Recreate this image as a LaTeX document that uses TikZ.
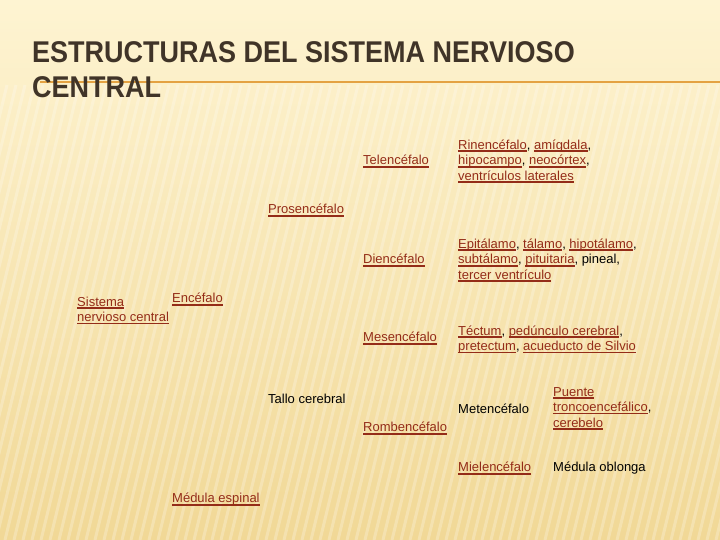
\documentclass[tikz,border=0pt]{standalone}
\usepackage{fontspec}
\setmainfont{Liberation Sans}
\newfontfamily\titlefont[FakeStretch=0.9]{Liberation Sans}
\usetikzlibrary{positioning}
\definecolor{linkred}{RGB}{148,44,24}
\definecolor{titlegray}{RGB}{64,52,40}
\definecolor{rulecol}{RGB}{228,162,66}
\definecolor{creamtop}{RGB}{254,244,210}
\definecolor{creambot}{RGB}{241,216,150}
\newsavebox{\lnkbox}
\def\lnk#1{\textcolor{linkred}{\sbox{\lnkbox}{#1}\rlap{\rule[-2.6pt]{\wd\lnkbox}{1.6pt}}\usebox{\lnkbox}}}

\begin{document}
\begin{tikzpicture}[x=1pt,y=-1pt,% pixel grid of the slide, y going down
		every node/.style={
			align=left,		% so that "\\" breaks the line
			anchor=west,
			inner sep=0pt,
			font=\fontsize{13}{15.5}\selectfont
		},
		heading/.style={anchor=base west,text=titlegray,font=\titlefont\bfseries\fontsize{30}{35}\selectfont}
	]
	\useasboundingbox (0,0) rectangle (720,540);
	% slide background
	\fill[top color=creamtop,bottom color=creambot] (0,0) rectangle (720,540);
	\begin{scope}
		\clip (0,0) rectangle (720,540);
		\foreach \s in {-130,-121,...,720}
			\draw[white,opacity=.24,line width=3pt] (\s,540) -- ++(110,-455);
	\end{scope}
	\draw[rulecol,line width=2pt] (40,82) -- (720,82);
	\node[heading] (title1) at (32,63) {ESTRUCTURAS DEL SISTEMA NERVIOSO};
	\node[heading] (title2) at (32,98) {CENTRAL};
	% hierarchy, one column after the other
	\node (snc) at (77,310.5) {\lnk{Sistema}\\\lnk{nervioso central}};
	\node (enc) at (172,299.5) {\lnk{Encéfalo}};
	\node (medesp) at (172,499.5) {\lnk{Médula espinal}};
	\node (pros) at (268,210.5) {\lnk{Prosencéfalo}};
	\node (tallo) at (268,398.5) {Tallo cerebral};
	\node (tel) at (363,161.5) {\lnk{Telencéfalo}};
	\node (dien) at (363,260.5) {\lnk{Diencéfalo}};
	\node (mes) at (363,338.5) {\lnk{Mesencéfalo}};
	\node (romb) at (363,428.5) {\lnk{Rombencéfalo}};
	\node (telpart) at (458,161.5) {\lnk{Rinencéfalo}, \lnk{amígdala},\\\lnk{hipocampo}, \lnk{neocórtex},\\\lnk{ventrículos laterales}};
	\node (dienpart) at (458,260.5) {\lnk{Epitálamo}, \lnk{tálamo}, \lnk{hipotálamo},\\\lnk{subtálamo}, \lnk{pituitaria}, pineal,\\\lnk{tercer ventrículo}};
	\node (mespart) at (458,339.5) {\lnk{Téctum}, \lnk{pedúnculo cerebral},\\\lnk{pretectum}, \lnk{acueducto de Silvio}};
	\node (met) at (458,408.5) {Metencéfalo};
	\node (miel) at (458,468.5) {\lnk{Mielencéfalo}};
	\node (metpart) at (553,408.5) {\lnk{Puente}\\\lnk{troncoencefálico},\\\lnk{cerebelo}};
	\node (mielpart) at (553,468.5) {Médula oblonga};
\end{tikzpicture}
\end{document}
